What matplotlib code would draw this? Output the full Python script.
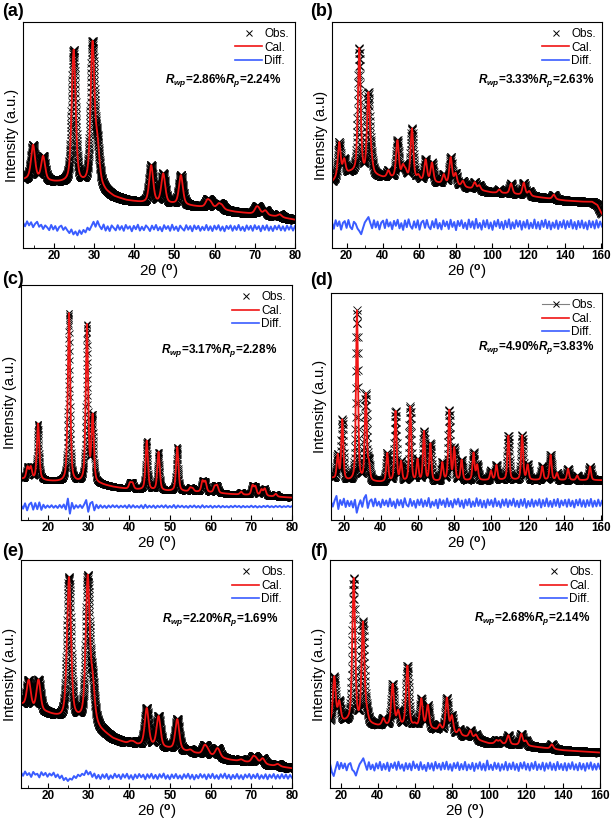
import numpy as np
import matplotlib
matplotlib.use('Agg')
import matplotlib.pyplot as plt
from matplotlib.lines import Line2D
from matplotlib.ticker import MultipleLocator

plt.rcParams['font.family'] = ['Liberation Sans', 'DejaVu Sans']
plt.rcParams['mathtext.fontset'] = 'custom'
plt.rcParams['mathtext.rm'] = 'Liberation Sans:bold'
plt.rcParams['mathtext.it'] = 'Liberation Sans:italic:bold'

# ---- (a) peak positions (2theta), heights above background, background anchors, difference curve
a_pos = [14.8, 17.3, 24.9, 29.6, 30.8, 44.2, 47.2, 51.6, 58.2, 59.0, 61.0, 61.8, 70.4, 71.0, 72.6, 76.2]
a_hgt = [15, 10.5, 59, 62, 16, 16.5, 13, 13, 3, 2, 2, 1.5, 2.5, 1.8, 2, 1.2]
a_bg_x = [12, 14, 20, 23, 26, 28, 31.5, 33, 35, 38, 42, 50, 55, 60, 65, 70, 75, 80]
a_bg_y = [30, 30.5, 29, 28.5, 28, 27.5, 27, 24.5, 22.5, 21, 20, 19.3, 18.4, 17.5, 16, 15, 14, 12.5]
a_diff = [2.5, 0.8, 3.0, 1.2, 2.6, 0.4, 1.9, 2.8, 0.6, 1.5, -0.4, 1.2, 0.3, -0.9, 1.4, -0.6,
          0.9, -1.2, 0.5, 1.1, -0.8, 0.4, -1.0, -2.2, -0.6, -2.8, -1.5, -3.2, -1.0, -2.6, -0.8, -1.9,
          0.2, -0.9, 1.0, 2.8, 0.6, 3.1, 0.9, -0.5, 1.6, -1.1, 0.8, -1.3, 1.2, 0.1, -1.0, 1.3,
          -0.7, 0.9, -1.2, 1.4, -0.3, 0.8, -1.4, 1.0, -0.5, 1.5, -1.1, 0.6, -0.9, 1.2, 0.2, -1.3,
          1.1, -0.6, 1.4, -1.0, 0.5, -1.4, 1.3, -0.4, 0.9, -1.2, 1.5, -0.8, 0.7, -1.3, 1.1, -0.2,
          -1.1, 1.3, -0.7, 0.9, -1.4, 1.2, -0.5, 1.0, -1.2, 0.6, -0.9, 1.4, -1.0, 0.8, -1.3, 1.1,
          -0.6, 1.3, -1.1, 0.7, -1.4, 1.0, -0.4, 1.2, -1.2, 0.9, -0.8, 1.4, -1.0, 0.6, -1.3, 1.2,
          -0.7, 1.0, -1.2, 1.3, -0.5, 0.9, -1.4, 1.1, -0.8, 1.3, -1.1, 0.7, -1.3, 1.0, -0.6, 1.2,
          -1.0, 0.8, -1.2, 1.1, -0.7, 1.0, -1.1, 0.9]

# ---- (b)
b_pos = [16.0, 18.7, 27.0, 32.0, 33.6, 43.0, 48.0, 51.0, 52.5, 56.0, 59.5, 63.5, 67.0, 73.5, 77.3, 80.0,
         84.0, 90.5, 93.0, 104.0, 110.5, 117.5, 120.5, 134.0]
b_hgt = [15, 6.5, 55, 35, 6, 3, 16.5, 5, 3, 22.5, 2, 9.5, 8.5, 4, 12, 5, 2.5, 3, 2, 1.5, 4.5, 5.5, 2, 2]
b_bg_x = [12, 15, 22, 26, 30, 35, 40, 50, 60, 70, 80, 90, 100, 110, 120, 130, 140, 150, 155, 158, 160.5]
b_bg_y = [29, 31, 33, 33, 32, 32, 31, 30.5, 29.5, 28.5, 27.5, 26, 24.5, 24, 23, 22, 21, 20.5, 20.5, 19, 15]
b_diff = [1.2, -1.8, 2.0, -0.6, 1.5, -2.2, 0.8, 1.6, -1.4, 2.1, -1.0, -2.0, 1.3, 0.4, -1.7, -2.8,
          -4.2, -1.5, 1.0, 2.2, 3.4, 0.8, -1.6, 2.0, -1.2, 1.4, -2.1, 0.9, 1.8, -1.5, 2.3, -0.8,
          1.1, -2.0, 1.7, -0.5, 2.2, -1.6, 0.7, -2.3, 1.9, -1.1, 2.4, -0.6, -1.8, 1.5, -1.3, 2.0,
          -2.2, 1.0, 1.8, -1.4, 2.1, -0.9, -2.0, 1.6, -1.2, 2.5, -1.7, 0.8, -2.1, 1.9, -0.7, 1.4,
          -1.9, 2.2, -1.0, 1.2, -2.4, 1.7, -0.6, 2.0, -1.5, 0.9, -2.0, 2.3, -1.2, 1.5, -1.8, 2.6,
          -1.4, 0.8, -2.2, 1.9, -1.1, 2.1, -1.7, 1.0, -2.3, 1.6, -0.8, 2.2, -1.5, 1.3, -2.0, 1.8,
          -1.2, 2.4, -1.9, 1.1, -1.6, 2.0, -0.9, 1.7, -2.2, 1.4, -1.3, 2.1, -1.8, 0.9, -1.5, 2.3,
          -1.7, 1.2, -2.0, 1.8, -1.0, 2.2, -1.6, 1.5, -2.1, 1.0, -1.4, 1.9, -1.9, 1.3, -1.2, 2.0,
          -1.8, 1.6, -1.1, 2.1, -1.7, 1.2, -2.0, 1.7, -1.3, 1.9, -1.6, 1.1, -2.1, 1.8, -1.2, 1.5,
          -1.7, 2.0, -1.3, 1.4, -0.8]

# ---- (c)
c_pos = [15.0, 15.8, 17.6, 25.2, 29.6, 31.0, 40.2, 40.8, 44.3, 47.2, 51.8, 55.0, 55.6, 58.0, 58.7, 61.0,
         61.6, 67.5, 70.3, 71.0, 72.5, 73.3, 76.0]
c_hgt = [5, 5, 24, 72, 67, 28, 2.5, 2.5, 21, 16.4, 18.8, 1.5, 1.2, 4.5, 4.3, 2.5, 3, 1.2, 4, 3.5, 2.5, 3, 1.2]
c_bg_x = [13, 16, 20, 24, 28, 33, 36, 40, 45, 50, 55, 60, 65, 70, 75, 80]
c_bg_y = [17.5, 17, 16.5, 16, 15.5, 15, 14, 13, 12.5, 12.2, 12, 11.6, 11, 10.5, 10, 9.5]
c_diff = [0.6, -0.9, 1.4, -1.6, 0.9, 1.7, -1.3, 1.5, -1.1, 1.8, -1.4, 0.8, -0.6, 0.5, -0.4, 0.6,
          -0.5, 0.4, -0.6, 0.7, -0.5, 0.9, -1.2, 3.4, -3.0, 1.6, -0.9, 0.6, -0.5, 0.7, -0.6, 0.9,
          2.8, -2.2, 1.4, 2.0, -1.6, 0.8, -0.7, 0.6, -0.5, 0.4, -0.6, 0.5, -0.4, 0.6, -0.3, 0.5,
          -0.5, 0.4, -0.3, 0.5, -0.6, 0.7, -0.5, 0.6, -0.4, 0.3, -0.5, 0.6, -0.7, 0.8, -0.5, 0.4,
          -0.4, 0.5, -0.6, 0.4, -0.3, 0.5, -0.4, 0.6, -0.5, 0.3, -0.4, 0.7, -0.6, 0.5, -0.3, 0.4,
          -0.4, 0.3, -0.5, 0.4, -0.3, 0.5, -0.4, 0.3, -0.5, 0.6, -0.4, 0.3, -0.3, 0.4, -0.5, 0.3,
          -0.3, 0.4, -0.4, 0.3, -0.3, 0.2, -0.4, 0.3, -0.3, 0.4, -0.2, 0.3, -0.4, 0.3, -0.3, 0.2,
          -0.3, 0.4, -0.3, 0.3, -0.4, 0.2, -0.3, 0.3, -0.2, 0.4, -0.3, 0.2, -0.3, 0.3, -0.2, 0.3,
          -0.3, 0.2, -0.2, 0.3, -0.2, 0.2]

# ---- (d)
d_pos = [16.5, 19.0, 27.0, 31.8, 33.5, 43.5, 48.0, 51.0, 56.0, 60.0, 63.5, 67.0, 73.5, 77.3, 80.0, 84.0,
         90.5, 92.5, 100.0, 103.0, 109.5, 117.0, 120.0, 128.0, 132.5, 136.0, 142.0, 147.0, 154.0]
d_hgt = [10.5, 26.5, 75, 38, 7, 12.5, 31, 8.5, 33, 9.5, 22, 16.5, 8, 31, 14, 9, 12, 6.5, 4, 6.5, 19.5,
         19.5, 6.5, 6, 11, 3, 5, 2, 6]
d_bg_x = [12, 20, 40, 60, 80, 100, 120, 140, 161]
d_bg_y = [18.5, 17, 16.5, 16.5, 17, 17.5, 17.5, 17.5, 17.5]
d_diff = [0.8, -1.5, 1.2, 3.2, -2.6, 1.4, -0.8, 2.0, -1.7, 1.1, -1.3, 0.9, -1.9, 1.5, -4.2, -1.0,
          1.3, -1.6, 2.2, 3.6, -2.1, 0.9, 1.7, -1.4, 2.0, -1.1, 0.7, -1.8, 1.6, -0.9, 1.2, -1.5,
          2.0, -1.3, 0.8, -2.1, 1.7, -1.0, 1.4, -1.8, 2.2, -0.7, -1.5, 1.9, -1.2, 1.0, -2.0, 1.6,
          -0.9, 1.8, -1.6, 1.2, -1.3, 2.3, -1.9, 0.7, -1.1, 1.5, -2.2, 1.8, -0.8, 1.3, -1.7, 2.1,
          -1.4, 1.0, -1.9, 1.7, -0.6, 2.0, -1.5, 1.2, -2.1, 1.6, -1.0, 1.9, -1.7, 0.8, -1.4, 2.2,
          -1.2, 1.5, -1.8, 1.1, -2.0, 1.7, -0.9, 1.4, -1.6, 2.1, -1.3, 0.9, -1.9, 1.6, -1.1, 1.8,
          -1.7, 1.3, -1.0, 2.0, -1.5, 1.1, -1.8, 1.6, -1.2, 1.9, -2.0, 1.0, -1.4, 1.7, -1.6, 1.2,
          -1.1, 1.8, -1.9, 1.4, -1.3, 2.1, -1.5, 1.0, -1.7, 1.6, -1.2, 1.9, -1.8, 1.2, -1.0, 1.5,
          -1.6, 1.7, -1.3, 1.1, -1.9, 1.5, -1.0, 1.8, -1.5, 1.3, -1.7, 1.4, -1.2, 1.9, -1.6, 1.1,
          -1.4, 1.6, -1.2, 1.0]

# ---- (e)
e_pos = [15.3, 17.7, 25.2, 29.8, 31.0, 40.2, 41.0, 44.3, 47.2, 51.8, 55.0, 58.5, 59.2, 61.5, 62.0, 67.5,
         70.5, 71.2, 72.8, 76.5]
e_hgt = [12, 13.5, 62, 62.5, 15, 1, 1, 16.5, 13.5, 13.5, 1, 3.5, 2, 2.5, 2, 0.8, 2.5, 1.5, 2.5, 1]
e_bg_x = [13, 14, 16.5, 20, 23, 27, 31, 33, 36, 40, 45, 50, 55, 60, 65, 70, 75, 80]
e_bg_y = [37, 36, 34, 32.5, 30.5, 29.5, 28.5, 25, 21.5, 19, 18, 17, 15.5, 14, 12.2, 11, 9.8, 8.6]
e_diff = [1.8, 0.3, 2.2, 0.6, 1.5, -0.2, 2.0, 0.8, 1.2, -0.4, 1.9, 0.5, 1.6, -0.1, 1.3, 0.4,
          1.7, -0.3, 0.9, -0.8, 0.4, -1.6, -0.6, -2.0, -0.9, -1.4, 0.2, -0.7, 0.8, 0.1, 1.2, 0.6,
          2.6, 0.9, 2.0, -0.2, 1.3, -0.9, 0.7, -1.1, 0.9, -0.6, 1.1, -1.2, 0.5, -0.8, 1.2, -0.4,
          0.8, -1.1, 1.0, -0.5, 1.2, -1.0, 0.6, -1.3, 0.9, -0.7, 1.1, -0.4, 0.8, -1.2, 1.0, -0.6,
          1.2, -0.9, 0.7, -1.1, 1.0, -0.5, 1.3, -1.0, 0.6, -1.2, 0.9, -0.7, 1.1, -0.9, 0.5, -1.1,
          1.0, -0.6, 1.2, -1.0, 0.8, -1.3, 0.7, -0.8, 1.1, -0.5, 0.9, -1.2, 1.0, -0.7, 1.2, -0.9,
          0.6, -1.1, 1.0, -0.6, 1.3, -0.9, 0.8, -1.2, 0.7, -0.8, 1.1, -1.0, 0.6, -1.2, 0.9, -0.5,
          1.1, -1.0, 0.8, -0.7, 1.2, -1.1, 0.6, -0.9, 1.0, -1.2, 0.8, -0.6, 1.1, -1.0, 0.7, -0.9,
          1.0, -0.8, 0.9, -1.0, 0.7, -0.6]

# ---- (f)
f_pos = [16.5, 19.2, 27.0, 32.0, 34.0, 43.0, 48.0, 51.0, 56.0, 60.0, 63.5, 67.0, 73.5, 77.3, 80.0, 84.0,
         90.0, 93.0, 104.0, 106.0, 110.5, 117.5, 120.0, 134.0]
f_hgt = [20, 8.5, 63.5, 44, 4, 3, 18, 6, 26.5, 1, 12.5, 10, 2.5, 15, 7.5, 2.5, 3, 2, 1.5, 1.5, 4, 5, 2, 2]
f_bg_x = [14, 20, 24, 28, 31, 36, 40, 50, 60, 70, 80, 90, 100, 110, 120, 130, 140, 150, 160]
f_bg_y = [28, 28.5, 28.5, 27.5, 27.5, 27.5, 27, 27, 26.5, 25.5, 23.5, 22, 19.5, 19, 18.5, 17.5, 16.5, 16, 15.5]
f_diff = [1.2, -2.5, -4.2, -1.0, 2.0, -1.2, 1.6, -0.8, 1.3, -1.7, 0.9, 1.5, -1.4, -2.2, -4.0, -1.3,
          1.0, 2.2, 3.6, 1.1, -1.5, 1.9, -1.2, 0.8, -1.8, 1.4, -0.9, 2.0, -1.6, 1.1, -1.3, 1.7,
          -2.0, 1.2, -0.7, 1.8, -1.5, 2.1, -1.0, 0.9, -1.9, 1.5, -1.2, 1.3, -1.7, 2.2, -0.8, 1.0,
          -1.6, 1.9, -1.3, 0.7, -2.0, 1.6, -1.1, 1.4, -1.8, 2.0, -0.9, 1.2, -1.5, 1.7, -1.2, 2.1,
          -1.4, 1.0, -1.9, 1.5, -0.8, 1.8, -1.6, 1.1, -1.3, 2.0, -1.7, 0.9, -1.2, 1.6, -2.0, 1.3,
          -1.0, 1.9, -1.5, 1.2, -1.8, 2.6, -1.3, 0.8, -1.6, 1.7, -1.1, 1.4, -1.9, 1.0, -1.4, 2.0,
          -1.7, 1.3, -1.2, 1.8, -1.5, 1.1, -2.0, 1.6, -0.9, 1.9, -1.4, 1.2, -1.8, 1.5, -1.1, 2.1,
          -1.6, 1.0, -1.3, 1.7, -1.9, 1.4, -1.0, 1.8, -1.5, 1.2, -1.7, 2.0, -1.2, 1.1, -1.6, 1.5,
          -1.8, 1.3, -1.1, 1.9, -1.4, 1.0, -1.7, 1.6, -1.3, 1.2, -1.9, 1.5, -1.0, 1.8, -1.5, 1.1,
          -1.4, 1.3, -1.0]

r_values = {'a': ('2.86', '2.24'), 'b': ('3.33', '2.63'), 'c': ('3.17', '2.28'),
            'd': ('4.90', '3.83'), 'e': ('2.20', '1.69'), 'f': ('2.68', '2.14')}

RED = '#f01414'
BLUE = '#3a5cff'


def profile(tt, pos, hgt, fwhm, bg_x, bg_y):
    y = np.interp(tt, bg_x, bg_y)
    for p, h in zip(pos, hgt):
        d = (tt - p) / fwhm
        y = y + h * (0.5 / (1 + 4 * d ** 2) + 0.5 * np.exp(-4 * np.log(2) * d ** 2))
    return y


panels = [
    # name, rect, data, fwhm, xlim, step, marker size, tick, diff offset, ylabel, R text pos
    ('a', [0.0375, 0.6983, 0.443, 0.275], (a_pos, a_hgt, a_bg_x, a_bg_y, a_diff), 1.15,
     (12.3, 80), 0.03, 6, 10, 8.8, 'Intensity (a.u.)', (0.95, 0.74)),
    ('b', [0.5407, 0.6983, 0.4397, 0.275], (b_pos, b_hgt, b_bg_x, b_bg_y, b_diff), 1.8,
     (12, 160.5), 0.1, 5.5, 20, 10.3, 'Intensity (a.u)', (0.97, 0.74)),
    ('c', [0.0342, 0.3674, 0.4414, 0.2859], (c_pos, c_hgt, c_bg_x, c_bg_y, c_diff), 0.7,
     (13.4, 80), 0.03, 5, 10, 5.7, 'Intensity (a.u.)', (0.945, 0.72)),
    ('d', [0.539, 0.3674, 0.4414, 0.2762], (d_pos, d_hgt, d_bg_x, d_bg_y, d_diff), 1.3,
     (12.8, 160.5), 0.1, 5.5, 20, 7.4, 'Intensity (a.u.)', (0.97, 0.76)),
    ('e', [0.0342, 0.0415, 0.4414, 0.2772], (e_pos, e_hgt, e_bg_x, e_bg_y, e_diff), 1.15,
     (13.4, 80), 0.03, 6, 10, 5.0, 'Intensity (a.u.)', (0.948, 0.74)),
    ('f', [0.5375, 0.0415, 0.4397, 0.2772], (f_pos, f_hgt, f_bg_x, f_bg_y, f_diff), 1.8,
     (14.2, 160), 0.1, 5.5, 20, 9.4, 'Intensity (a.u.)', (0.963, 0.745)),
]

fig = plt.figure(figsize=(6.14, 8.22), dpi=100)

for name, rect, data, fwhm, xlim, step, ms, tick, doff, ylab, rxy in panels:
    pos, hgt, bgx, bgy, diff = data
    ax = fig.add_axes(rect)
    tt = np.arange(xlim[0], xlim[1], step)
    cal = profile(tt, pos, hgt, fwhm, bgx, bgy)
    ax.plot(tt, cal, ls='none', marker='x', ms=ms, mew=0.6, color='black')
    ax.plot(tt, cal, color=RED, lw=1.3)
    dx = np.linspace(xlim[0], xlim[1], len(diff))
    ax.plot(dx, doff + np.array(diff), color=BLUE, lw=1.4)

    ax.set_xlim(*xlim)
    ax.set_ylim(0, 100)
    ax.set_yticks([])
    ax.xaxis.set_major_locator(MultipleLocator(tick))
    ax.xaxis.set_minor_locator(MultipleLocator(tick / 2))
    ax.tick_params(axis='x', which='both', direction='in', labelsize=8.5, pad=1.5)
    ax.tick_params(axis='x', which='major', length=3.5)
    ax.tick_params(axis='x', which='minor', length=2)
    for lab in ax.get_xticklabels():
        lab.set_fontweight('bold')
    ax.set_xlabel('2θ ($^{\\mathrm{o}}$)', fontsize=11, labelpad=0.5)
    ax.set_ylabel(ylab, fontsize=10.5, labelpad=3)

    obs_handle = Line2D([], [], ls='-' if name == 'd' else 'none', color='gray', lw=0.8,
                        marker='x', ms=4.5, mew=0.7, mec='black')
    handles = [obs_handle, Line2D([], [], color=RED, lw=1.2), Line2D([], [], color=BLUE, lw=1.2)]
    ax.legend(handles, ['Obs.', 'Cal.', 'Diff.'], loc='upper right', frameon=False, fontsize=8.5,
              handlelength=2.3, handletextpad=0.2, labelspacing=0.15, borderaxespad=0.3,
              borderpad=0.2)
    rwp, rp = r_values[name]
    ax.text(rxy[0], rxy[1], '$R_{wp}$=%s%%$R_p$=%s%%' % (rwp, rp), transform=ax.transAxes,
            ha='right', va='center', fontsize=8.5, fontweight='bold')

    lx = 2 / 614 if name in 'ace' else 310 / 614
    ly = {'a': 11, 'b': 11, 'c': 279, 'd': 280, 'e': 551, 'f': 552}[name]
    fig.text(lx, 1 - ly / 822, '(%s)' % name, fontsize=13, fontweight='bold', va='center', ha='left')

fig.savefig('out.png', dpi=100)
